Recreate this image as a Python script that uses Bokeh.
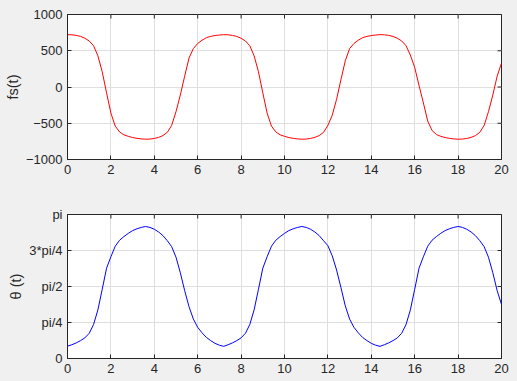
import numpy as np
from bokeh.plotting import figure
from bokeh.layouts import column
from bokeh.models import Range1d, FixedTicker
from bokeh.embed import file_html
from bokeh.resources import INLINE

t = [round(0.2 * k, 1) for k in range(101)]

fs = [722, 720, 712, 698, 672, 635, 570, 430, 210, -80, -360, -540, -620, -660, -680, -697, -708, -716,
      -720, -718, -710, -695, -670, -625, -530, -340, -110, 150, 400, 530, 600, 645, 680, 698, 710, 717, 722,
      720, 712, 698, 672, 635, 570, 430, 210, -80, -360, -540, -620, -660, -680, -697, -708, -716,
      -720, -718, -710, -695, -670, -625, -530, -390, -170, 100, 360, 530, 600, 645, 680, 698, 710, 717, 722,
      720, 712, 698, 672, 635, 570, 440, 270, 20, -220, -470, -600, -655, -680, -697, -708, -716,
      -720, -718, -710, -695, -670, -625, -530, -340, -110, 150, 330]

theta = [0.27, 0.30, 0.34, 0.39, 0.45, 0.55, 0.74, 1.06, 1.51, 1.97, 2.22, 2.45, 2.58, 2.66, 2.73, 2.79, 2.83, 2.86,
         2.88, 2.86, 2.82, 2.76, 2.68, 2.57, 2.44, 2.21, 1.87, 1.48, 1.13, 0.86, 0.68, 0.56, 0.46, 0.39, 0.33, 0.29, 0.265,
         0.30, 0.34, 0.39, 0.45, 0.55, 0.74, 1.06, 1.51, 1.97, 2.22, 2.45, 2.58, 2.66, 2.73, 2.79, 2.83, 2.86,
         2.88, 2.86, 2.82, 2.76, 2.68, 2.57, 2.46, 2.24, 1.93, 1.55, 1.15, 0.86, 0.68, 0.56, 0.46, 0.39, 0.33, 0.29, 0.265,
         0.30, 0.34, 0.39, 0.45, 0.55, 0.74, 1.06, 1.51, 1.97, 2.22, 2.45, 2.58, 2.66, 2.73, 2.79, 2.83, 2.86,
         2.88, 2.86, 2.82, 2.76, 2.68, 2.57, 2.44, 2.21, 1.87, 1.48, 1.18]

x_ticks = [0, 2, 4, 6, 8, 10, 12, 14, 16, 18, 20]
fs_ticks = [-1000, -500, 0, 500, 1000]
theta_ticks = [0.0, np.pi / 4, np.pi / 2, 3 * np.pi / 4, np.pi]
theta_tick_labels = ["0", "pi/4", "pi/2", "3*pi/4", "pi"]

BG = "#f0f0f0"
AX = "#262626"
GRID = "#dfdfdf"
FONT = "Liberation Sans"
X_RANGE = (0, 20)


def style_axis(ax, ticks):
    ax.ticker = FixedTicker(ticks=ticks)
    ax.major_tick_in = 4
    ax.major_tick_out = 0
    ax.minor_tick_line_color = None
    ax.axis_line_color = AX
    ax.major_tick_line_color = AX
    ax.major_label_text_font = FONT
    ax.major_label_text_color = AX
    ax.major_label_text_font_size = "13px"
    ax.major_label_standoff = 5


def make(height, top, bottom, yr, yticks, ylabel):
    p = figure(width=517, height=height, output_backend="svg", toolbar_location=None,
               x_range=Range1d(*X_RANGE), y_range=Range1d(*yr),
               min_border_left=67, min_border_right=16, min_border_top=top,
               min_border_bottom=bottom, background_fill_color="white",
               border_fill_color=BG, outline_line_color=AX, outline_line_width=1)
    style_axis(p.xaxis[0], x_ticks)
    style_axis(p.yaxis[0], yticks)
    p.yaxis[0].axis_label = ylabel
    p.yaxis[0].axis_label_text_font = FONT
    p.yaxis[0].axis_label_text_font_size = "14.5px"
    p.yaxis[0].axis_label_text_font_style = "normal"
    p.yaxis[0].axis_label_text_color = AX
    p.yaxis[0].axis_label_standoff = 2
    p.xgrid.ticker = FixedTicker(ticks=x_ticks)
    p.ygrid.ticker = FixedTicker(ticks=yticks)
    for g in (p.xgrid, p.ygrid):
        g.grid_line_color = GRID
        g.grid_line_width = 1
    # inward tick marks on the top and right edges of the box (clipped to the frame)
    p.scatter(x=x_ticks, y=[yr[1]] * len(x_ticks), marker="dash", size=8, angle=np.pi / 2,
              line_color=AX, line_width=1)
    p.scatter(x=[X_RANGE[1]] * len(yticks), y=yticks, marker="dash", size=8,
              line_color=AX, line_width=1)
    return p


p1 = make(190, 14, 31, (-1000, 1000), fs_ticks, "fs(t)")
p1.line(t, fs, line_color="#ff0000", line_width=1)

p2 = make(191, 24, 23, (0, np.pi), theta_ticks, "θ (t)")
p2.yaxis[0].major_label_overrides = {v: s for v, s in zip(theta_ticks, theta_tick_labels)}
p2.line(t, theta, line_color="#0000ff", line_width=1)

layout = column(p1, p2, spacing=0)
layout.styles = {"background-color": BG}

open("out.html", "w").write(file_html(layout, INLINE))
